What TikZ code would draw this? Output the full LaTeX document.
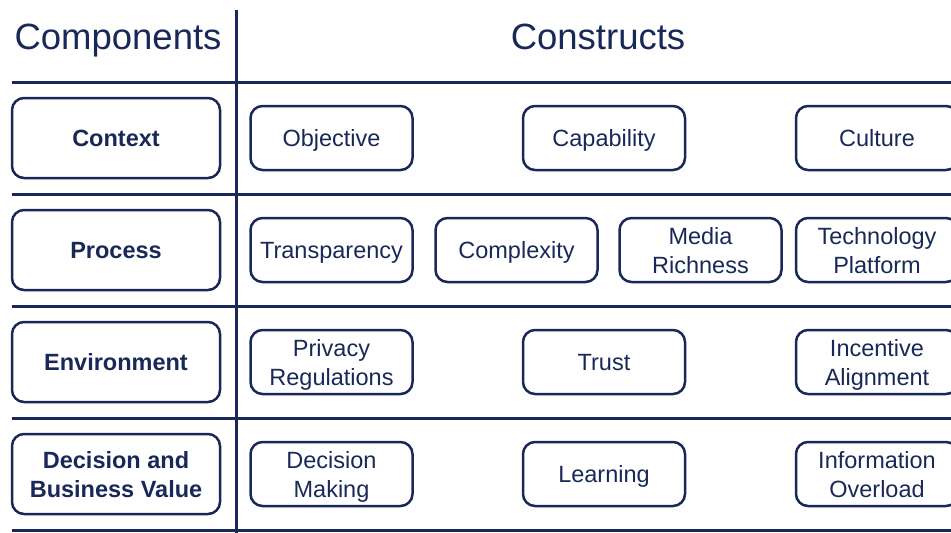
\documentclass[tikz,border=0pt]{standalone}
\usepackage{fontspec}
\setmainfont{Liberation Sans}
\definecolor{navy}{RGB}{24,40,88}

\begin{document}
\begin{tikzpicture}[x=1pt,y=-1pt,
  rule/.style={navy,line width=3pt},
  comp/.style={draw=navy,line width=2.5pt,rounded corners=12pt,text=navy,
    minimum width=208pt,minimum height=80pt,inner sep=2pt,align=center,
    text depth=0pt,font=\fontsize{23.5}{29}\selectfont\bfseries},
  cons/.style={draw=navy,line width=2.5pt,rounded corners=12pt,text=navy,
    minimum width=162pt,minimum height=64pt,inner sep=2pt,align=center,
    text depth=0pt,font=\fontsize{23.5}{29}\selectfont},
  head/.style={anchor=base,text=navy,font=\fontsize{36.5}{40}\selectfont}]
  \useasboundingbox (0,0) rectangle (951,533);
  \clip (0,0) rectangle (951,533);

  % table rules
  \foreach \y in {82,194,306,418,530}
    {
    \draw [rule] (12,\y) -- (951,\y);
    }
  \draw [rule] (236,10) -- (236,533);

  % column heads
  \node [head] (components) at (118,49) {Components};
  \node [head] (constructs) at (598,49) {Constructs};

  % components
  \foreach \name/\y/\txt in {context/138/Context,process/250/Process,
      environment/362/Environment,decision/474/{Decision and\\Business Value}}
    {
    \node [comp] (\name) at (116,\y) {\txt};
    }

  % constructs, row by row
  \foreach \name/\x/\txt in {objective/331.5/Objective,capability/604/Capability,
      culture/877/Culture}
    {
    \node [cons] (\name) at (\x,138) {\txt};
    }
  \foreach \name/\x/\txt in {transparency/331.5/Transparency,complexity/516.5/Complexity,
      media/700.5/{Media\\Richness},platform/877/{Technology\\Platform}}
    {
    \node [cons] (\name) at (\x,250) {\txt};
    }
  \foreach \name/\x/\txt in {privacy/331.5/{Privacy\\Regulations},trust/604/Trust,
      incentive/877/{Incentive\\Alignment}}
    {
    \node [cons] (\name) at (\x,362) {\txt};
    }
  \foreach \name/\x/\txt in {making/331.5/{Decision\\Making},learning/604/Learning,
      overload/877/{Information\\Overload}}
    {
    \node [cons] (\name) at (\x,474) {\txt};
    }
\end{tikzpicture}
\end{document}
